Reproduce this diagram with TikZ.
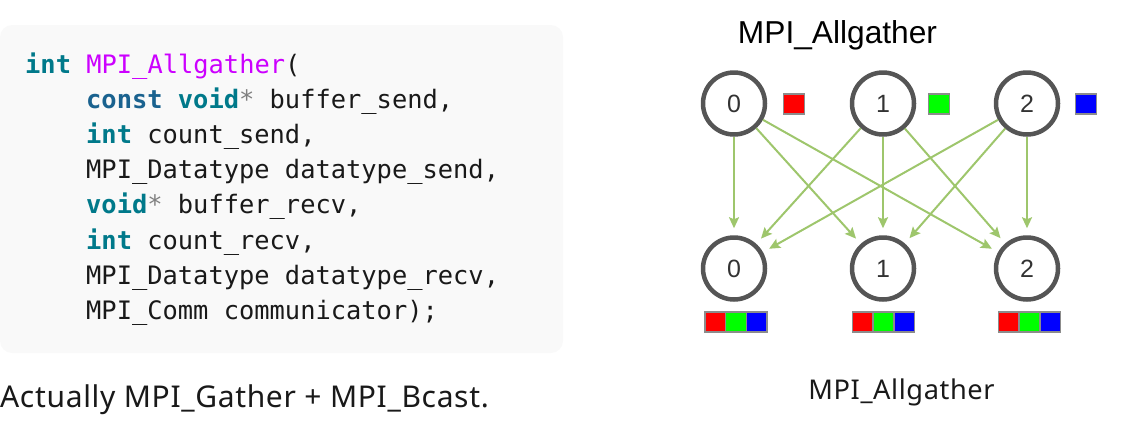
\documentclass[tikz,border=0pt]{standalone}
\usepackage{fontspec}
\setmonofont{DejaVu Sans Mono}
\newfontfamily\arialfont{Liberation Sans}
\newfontfamily\uifont[LetterSpace=2.2]{Noto Sans}
\usetikzlibrary{arrows.meta}

\definecolor{codebg}{HTML}{F9F9F9}
\definecolor{kwteal}{HTML}{00798A}
\definecolor{kwblue}{HTML}{1A628F}
\definecolor{fnpink}{HTML}{CC00FF}
\definecolor{ringgray}{HTML}{555555}
\definecolor{flowgreen}{HTML}{9EC66C}

\newcommand{\kw}[1]{\textcolor{kwteal}{\bfseries #1}}
\newcommand{\kwc}[1]{\textcolor{kwblue}{\bfseries #1}}
\newcommand{\ptr}{\textcolor{gray}{*}}

\tikzset{
  codeline/.style={anchor=base west, inner sep=0pt, text=black!90,
    font=\ttfamily\fontsize{25.4}{30}\selectfont},
  rank/.style={circle, draw=ringgray, line width=4.5pt, minimum size=62pt,
    inner sep=0pt, text=black!80, font=\arialfont\fontsize{25}{30}\selectfont},
  cell/.style={minimum width=20.7pt, minimum height=20pt, inner sep=0pt,
    draw=black!45, line width=1.5pt},
  flow/.style={draw=flowgreen, line width=2pt, shorten >=7pt,
    -{Stealth[length=11pt,width=10pt,inset=2pt]}},
}

\begin{document}
\begin{tikzpicture}[x=1pt,y=-1pt]

        %\draw [help lines,step=50] (0,0) grid (1146,429);
        \useasboundingbox (0,0) rectangle (1146,429);

        % code listing
        \path[fill=codebg,rounded corners=12pt] (0,25) rectangle (563,353);

        \node[codeline] (code1) at (25,73) {\kw{int} \textcolor{fnpink}{MPI\_Allgather}(};
        \node[codeline] (code2) at (86,108.2) {\kwc{const} \kw{void}\ptr{} buffer\_send,};
        \node[codeline] (code3) at (86,143.4) {\kw{int} count\_send,};
        \node[codeline] (code4) at (86,178.6) {MPI\_Datatype datatype\_send,};
        \node[codeline] (code5) at (86,213.8) {\kw{void}\ptr{} buffer\_recv,};
        \node[codeline] (code6) at (86,249) {\kw{int} count\_recv,};
        \node[codeline] (code7) at (86,284.2) {MPI\_Datatype datatype\_recv,};
        \node[codeline] (code8) at (86,319.4) {MPI\_Comm communicator);};

        \node[anchor=base west,inner sep=0pt,text=black!90,font=\uifont\fontsize{30}{35}\selectfont] (note) at (0,407) {Actually MPI\_Gather + MPI\_Bcast.};

        % diagram
        \node[inner sep=0pt,anchor=base,font=\arialfont\fontsize{31.7}{36}\selectfont] (title) at (837.5,43) {MPI\_Allgather};

        \node[rank] (s0) at (734,103.5) {0};
        \node[rank] (s1) at (883,103.5) {1};
        \node[rank] (s2) at (1027,103.5) {2};

        \node[rank] (r0) at (734,268.5) {0};
        \node[rank] (r1) at (883,268.5) {1};
        \node[rank] (r2) at (1027,268.5) {2};

        \node[cell,fill=red] (d0) at (794,104) {};
        \node[cell,fill=green] (d1) at (939,104) {};
        \node[cell,fill=blue] (d2) at (1086,104) {};

        \foreach \x/\n in {736/0,883.5/1,1029.5/2}{
            \node[cell,fill=red] (a\n) at (\x-20.7,322) {};
            \node[cell,fill=green] (b\n) at (\x,322) {};
            \node[cell,fill=blue] (c\n) at (\x+20.7,322) {};
        }

        \foreach \i in {0,1,2}
            \foreach \j in {0,1,2}
                \draw[flow] (s\i) -- (r\j);

        \node[inner sep=0pt,anchor=base,text=black!90,font=\uifont\fontsize{27.2}{32}\selectfont] (caption) at (901.5,399) {MPI\_Allgather};

\end{tikzpicture}
\end{document}
